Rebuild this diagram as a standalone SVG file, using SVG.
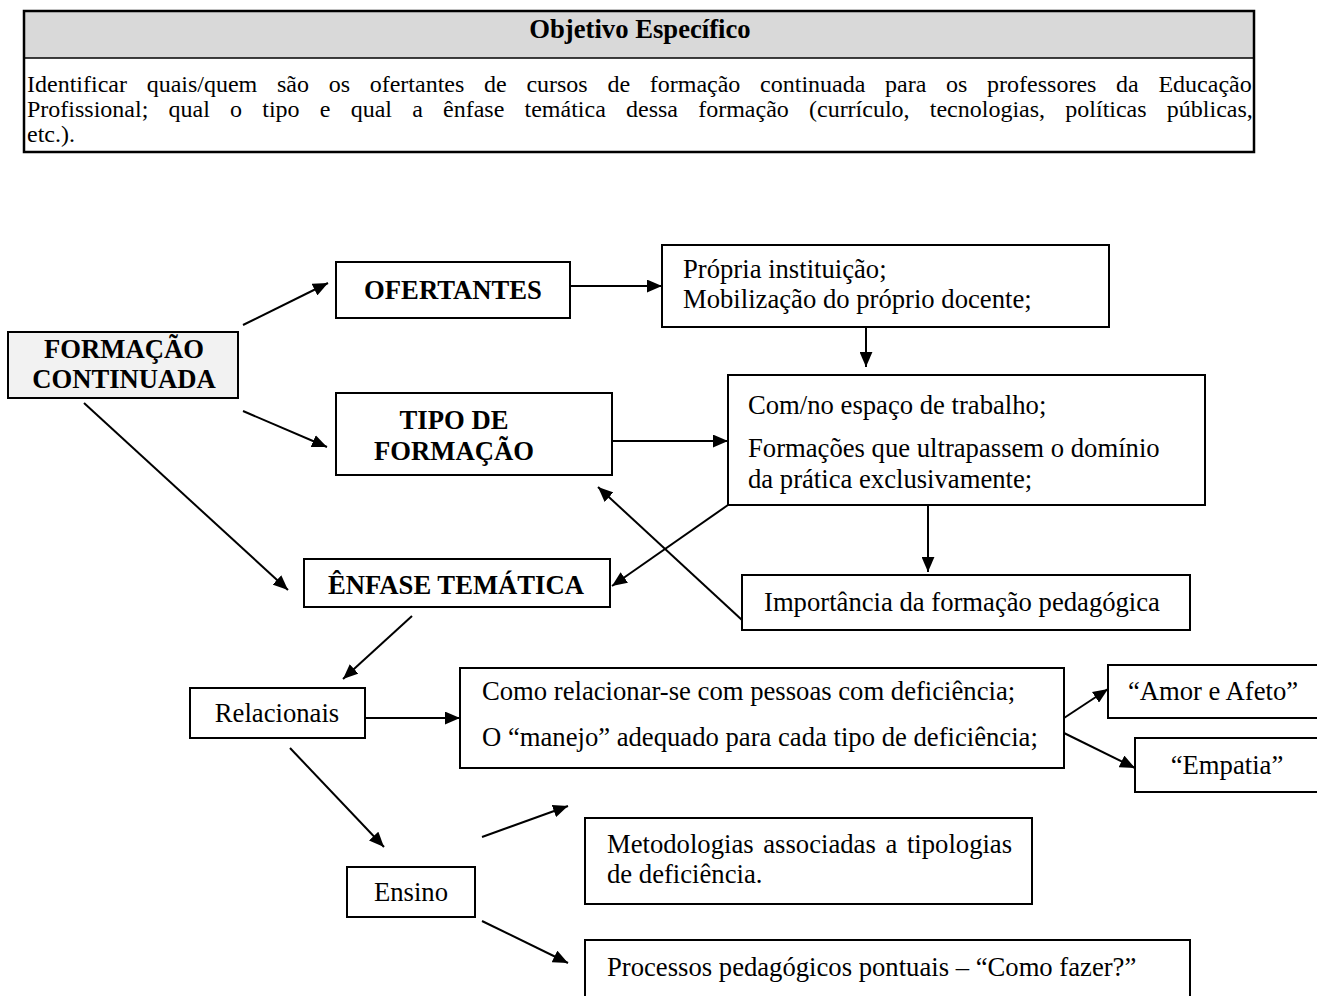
<svg xmlns="http://www.w3.org/2000/svg" width="1317" height="996" viewBox="0 0 1317 996">
  <style>
    text { font-family: "Liberation Serif", "Times New Roman", serif; fill: #000; }
    .hdr { font-size: 24px; }
    .ttl { font-size: 26.67px; font-weight: bold; }
    .b { font-size: 26.67px; font-weight: bold; }
    .t { font-size: 26.67px; }
    .box { fill: #fff; stroke: #000; stroke-width: 2; }
    .lnk { fill: none; stroke: #000; stroke-width: 2; }
  </style>
  <defs>
    <marker id="arrow" viewBox="0 0 14 12" refX="14" refY="6" markerWidth="15" markerHeight="13" markerUnits="userSpaceOnUse" orient="auto">
      <path d="M0,0 L14,6 L0,12 z" fill="#000"/>
    </marker>
  </defs>
  <rect width="1317" height="996" fill="#fff"/>

  <!-- objective table -->
  <g id="objetivo">
    <rect x="24" y="11" width="1230" height="47" fill="#d9d9d9"/>
    <rect x="24" y="11" width="1230" height="141" fill="none" stroke="#000" stroke-width="2.5"/>
    <line x1="24" y1="58" x2="1254" y2="58" stroke="#000" stroke-width="1.5"/>
    <text class="ttl" x="640" y="38" text-anchor="middle">Objetivo Específico</text>
    <text class="hdr" x="27" y="92" word-spacing="13.7">Identificar quais/quem são os ofertantes de cursos de formação continuada para os professores da Educação</text>
    <text class="hdr" x="27" y="117" word-spacing="14.2">Profissional; qual o tipo e qual a ênfase temática dessa formação (currículo, tecnologias, políticas públicas,</text>
    <text class="hdr" x="27" y="142">etc.).</text>
  </g>

  <g id="formacao-continuada">
    <rect x="8" y="332" width="230" height="66" fill="#f2f2f2" stroke="#000" stroke-width="2"/>
    <text class="b" x="124" y="358" text-anchor="middle">FORMAÇÃO</text>
    <text class="b" x="124" y="388" text-anchor="middle">CONTINUADA</text>
  </g>

  <g id="ofertantes">
    <rect class="box" x="336" y="262" width="234" height="56"/>
    <text class="b" x="453" y="299" text-anchor="middle">OFERTANTES</text>
  </g>

  <g id="propria">
    <rect class="box" x="662" y="245" width="447" height="82"/>
    <text class="t" x="683" y="278">Própria instituição;</text>
    <text class="t" x="683" y="308">Mobilização do próprio docente;</text>
  </g>

  <g id="tipo">
    <rect class="box" x="336" y="393" width="276" height="82"/>
    <text class="b" x="454" y="429" text-anchor="middle">TIPO DE</text>
    <text class="b" x="454" y="460" text-anchor="middle">FORMAÇÃO</text>
  </g>

  <g id="espaco">
    <rect class="box" x="728" y="375" width="477" height="130"/>
    <text class="t" x="748" y="414">Com/no espaço de trabalho;</text>
    <text class="t" x="748" y="457">Formações que ultrapassem o domínio</text>
    <text class="t" x="748" y="488">da prática exclusivamente;</text>
  </g>

  <g id="importancia">
    <rect class="box" x="742" y="575" width="448" height="55"/>
    <text class="t" x="764" y="611">Importância da formação pedagógica</text>
  </g>

  <g id="enfase">
    <rect class="box" x="304" y="559" width="306" height="48"/>
    <text class="b" x="456" y="594" text-anchor="middle">ÊNFASE TEMÁTICA</text>
  </g>

  <g id="relacionais">
    <rect class="box" x="190" y="688" width="175" height="50"/>
    <text class="t" x="277" y="722" text-anchor="middle">Relacionais</text>
  </g>

  <g id="como">
    <rect class="box" x="460" y="668" width="604" height="100"/>
    <text class="t" x="482" y="700">Como relacionar-se com pessoas com deficiência;</text>
    <text class="t" x="482" y="746">O “manejo” adequado para cada tipo de deficiência;</text>
  </g>

  <g id="amor">
    <rect class="box" x="1108" y="665" width="230" height="53"/>
    <text class="t" x="1213" y="700" text-anchor="middle">“Amor e Afeto”</text>
  </g>

  <g id="empatia">
    <rect class="box" x="1135" y="738" width="200" height="54"/>
    <text class="t" x="1227" y="774" text-anchor="middle">“Empatia”</text>
  </g>

  <g id="ensino">
    <rect class="box" x="347" y="867" width="128" height="50"/>
    <text class="t" x="411" y="901" text-anchor="middle">Ensino</text>
  </g>

  <g id="metodologias">
    <rect class="box" x="585" y="818" width="447" height="86"/>
    <text class="t" x="607" y="853" word-spacing="3">Metodologias associadas a tipologias</text>
    <text class="t" x="607" y="883">de deficiência.</text>
  </g>

  <g id="processos">
    <rect class="box" x="585" y="940" width="605" height="70"/>
    <text class="t" x="607" y="976">Processos pedagógicos pontuais – “Como fazer?”</text>
  </g>

  <!-- connectors -->
  <g id="connectors" class="lnk">
    <line x1="243" y1="325" x2="328" y2="283" marker-end="url(#arrow)"/>
    <line x1="243" y1="411" x2="327" y2="447" marker-end="url(#arrow)"/>
    <line x1="84" y1="403" x2="288" y2="590" marker-end="url(#arrow)"/>
    <line x1="571" y1="286" x2="662" y2="286" marker-end="url(#arrow)"/>
    <line x1="866" y1="327" x2="866" y2="367" marker-end="url(#arrow)"/>
    <line x1="612" y1="441" x2="728" y2="441" marker-end="url(#arrow)"/>
    <line x1="928" y1="505" x2="928" y2="572" marker-end="url(#arrow)"/>
    <line x1="728" y1="505" x2="612" y2="586" marker-end="url(#arrow)"/>
    <line x1="742" y1="620" x2="598" y2="487" marker-end="url(#arrow)"/>
    <line x1="412" y1="616" x2="343" y2="679" marker-end="url(#arrow)"/>
    <line x1="366" y1="718" x2="460" y2="718" marker-end="url(#arrow)"/>
    <line x1="1064" y1="718" x2="1108" y2="689" marker-end="url(#arrow)"/>
    <line x1="1064" y1="733" x2="1135" y2="768" marker-end="url(#arrow)"/>
    <line x1="290" y1="748" x2="384" y2="847" marker-end="url(#arrow)"/>
    <line x1="482" y1="837" x2="568" y2="806" marker-end="url(#arrow)"/>
    <line x1="482" y1="921" x2="568" y2="963" marker-end="url(#arrow)"/>
  </g>
</svg>
